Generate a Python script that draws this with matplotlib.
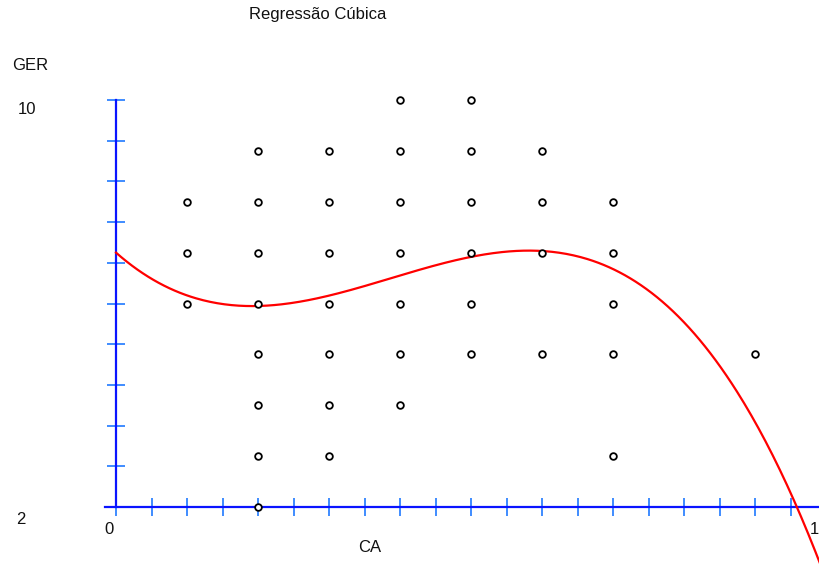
import numpy as np
import matplotlib
matplotlib.use("Agg")
import matplotlib.pyplot as plt

plt.rcParams['font.family'] = ['Liberation Sans', 'DejaVu Sans']

# Observed data (CA, GER)
ca_vals = [0.1, 0.1, 0.1,
           0.2, 0.2, 0.2, 0.2, 0.2, 0.2, 0.2, 0.2,
           0.3, 0.3, 0.3, 0.3, 0.3, 0.3, 0.3,
           0.4, 0.4, 0.4, 0.4, 0.4, 0.4, 0.4,
           0.5, 0.5, 0.5, 0.5, 0.5, 0.5,
           0.6, 0.6, 0.6, 0.6,
           0.7, 0.7, 0.7, 0.7, 0.7,
           0.9]
ger_vals = [8, 7, 6,
            9, 8, 7, 6, 5, 4, 3, 2,
            9, 8, 7, 6, 5, 4, 3,
            10, 9, 8, 7, 6, 5, 4,
            10, 9, 8, 7, 6, 5,
            9, 8, 7, 5,
            8, 7, 6, 5, 3,
            5]

# Cubic regression coefficients (a + b x + c x^2 + d x^3)
cubic_coefs = [7.0, -12.31, 42.68, -36.79]

x_ticks = np.arange(0, 1.0001, 0.05)
y_ticks = 2 + 0.8 * np.arange(11)

W, H = 819, 565
fig = plt.figure(figsize=(W / 100, H / 100), dpi=100)
ax = fig.add_axes([0, 0, 1, 1])

axis_blue = '#0a14ff'
tick_blue = '#3f8cff'

for s in ['top', 'right']:
    ax.spines[s].set_visible(False)
ax.spines['left'].set_position(('data', 0))
ax.spines['bottom'].set_position(('data', 2))
ax.spines['left'].set_bounds(2, 10)
ax.spines['bottom'].set_bounds(-0.016, 1.2)
for s in ['left', 'bottom']:
    ax.spines[s].set_color(axis_blue)
    ax.spines[s].set_linewidth(1.6)

ax.set_xticks(x_ticks)
ax.set_yticks(y_ticks)
ax.tick_params(axis='both', direction='inout', length=13.5, width=1.4,
               color=tick_blue, labelbottom=False, labelleft=False)

# pixel mapping: x=0 -> 116 px, 710 px per unit; y=2 -> 507 px, 50.875 px per unit
px0, pxu = 116, 710.0
py0, pyu = 507, 50.875
ax.set_xlim(-px0 / pxu, (W - px0) / pxu)
ax.set_ylim(2 - (H - py0) / pyu, 2 + py0 / pyu)

xs = np.linspace(0, 1.0, 400)
ys = np.polyval(cubic_coefs[::-1], xs)
ax.plot(xs, ys, color='#ff0000', lw=1.6, zorder=3, clip_on=True)

ax.plot(ca_vals, ger_vals, linestyle='none', marker='o', ms=4.8,
        mfc='white', mec='black', mew=1.3, zorder=4)

txt = dict(fontsize=12, color='#111111', ha='center', va='center')
fig.text(318 / W, 1 - 15 / H, 'Regressão Cúbica', **txt)
fig.text(30 / W, 1 - 66 / H, 'GER', **txt)
fig.text(27 / W, 1 - 110 / H, '10', **txt)
fig.text(21 / W, 1 - 519 / H, '2', **txt)
fig.text(109 / W, 1 - 530 / H, '0', **txt)
fig.text(814 / W, 1 - 530 / H, '1', **txt)
fig.text(370 / W, 1 - 547 / H, 'CA', **txt)

fig.savefig('out.png', dpi=100)
